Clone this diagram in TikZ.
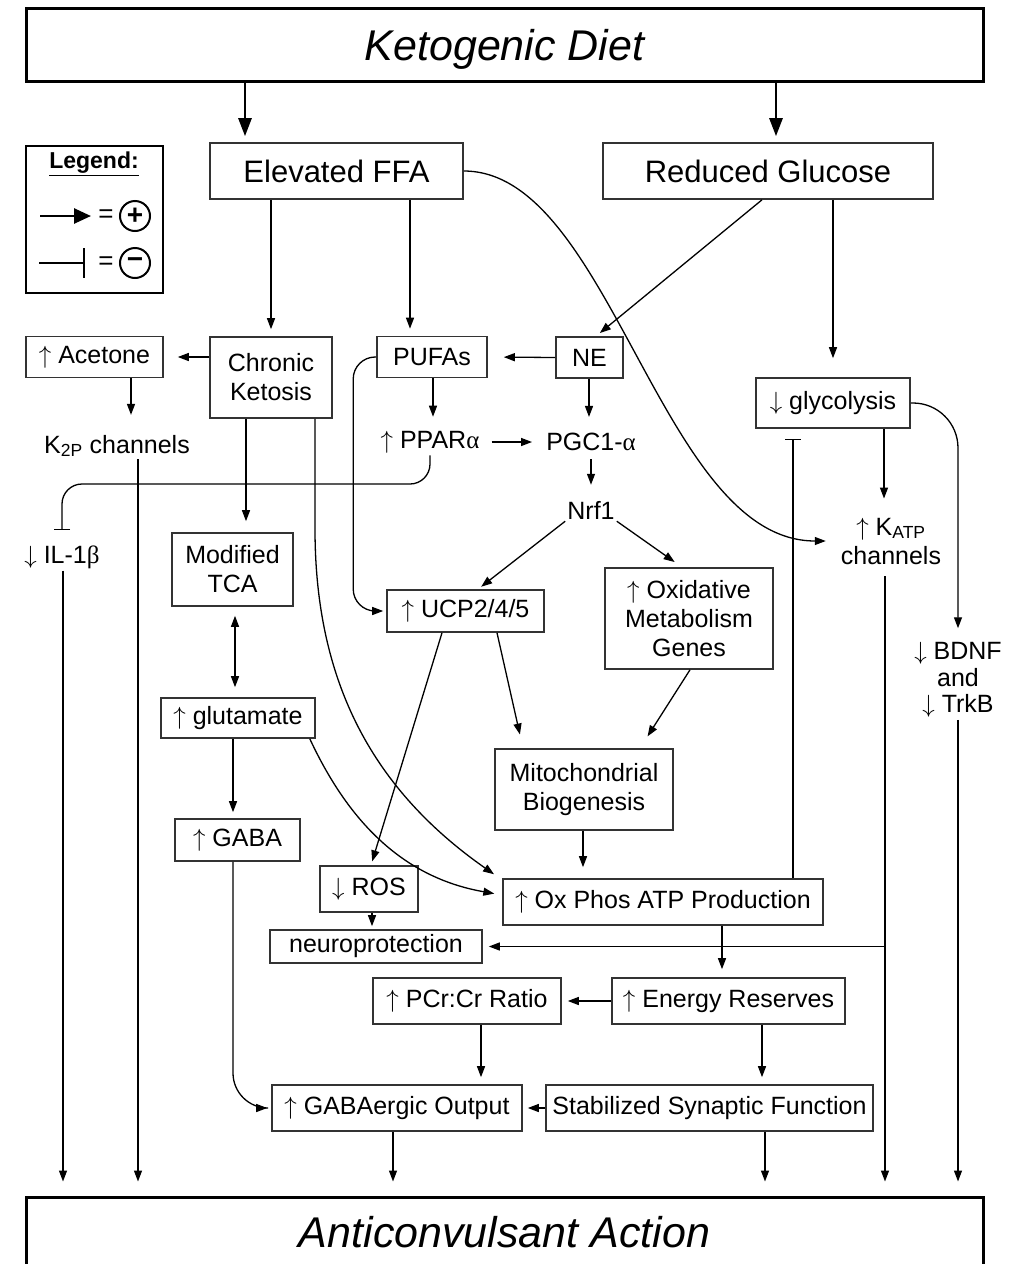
\documentclass[tikz,border=0pt]{standalone}
\usepackage{fontspec}
\setmainfont{Liberation Sans}
\newfontfamily\greekFont{Liberation Serif}
\usetikzlibrary{arrows.meta}
\newcommand{\upArr}{$\uparrow$}
\newcommand{\downArr}{$\downarrow$}

\begin{document}
\begin{tikzpicture}[x=1pt, y=1pt,
	txt/.style={font=\fontsize{25}{29}\selectfont, align=center, inner sep=2pt},
	box/.style={txt, draw=black!80, line width=1.6pt, inner sep=0pt},
	headBox/.style={box, font=\fontsize{31}{36}\selectfont},
	bigBox/.style={draw, line width=3pt, font=\fontsize{43}{50}\selectfont\itshape,
		minimum width=957pt, minimum height=73pt, text depth=0pt},
	sign/.style={circle, draw, line width=2pt, minimum size=30pt, inner sep=0pt,
		font=\fontsize{28}{28}\selectfont\bfseries},
	arr/.style={line width=1.3pt, -{Triangle[length=11pt,width=8pt]}, shorten >=6pt},
	dblArr/.style={arr, {Triangle[length=11pt,width=8pt]}-{Triangle[length=11pt,width=8pt]}, shorten <=9pt},
	bigArr/.style={line width=2.6pt, -{Triangle[length=18pt,width=13pt]}, shorten >=6pt},
	inh/.style={line width=1.3pt, -{Bar[width=16pt]}}
	]
	
	% Size of the page
	\useasboundingbox (0,0) rectangle (1018,-1264);
	\clip (0,0) rectangle (1018,-1264);
	
	% Top and bottom boxes
	\node[bigBox] (kd) at (504.5,-44.5) {Ketogenic Diet};
	\node[bigBox, minimum height=70pt] (ac) at (504.5,-1232) {Anticonvulsant Action};
	
	% Legend
	\draw[line width=2pt] (26,-146) rectangle (163,-293);
	\node[font=\fontsize{23}{26}\selectfont\bfseries] (legTitle) at (94,-164) {\underline{Legend:}};
	\draw[line width=2.6pt, -{Triangle[length=17pt,width=15pt]}] (40,-216) -- (91,-216);
	\draw[line width=2pt, -{Bar[width=30pt]}] (39,-263) -- (85,-263);
	\node[font=\fontsize{26}{26}\selectfont] (eqPlus) at (106,-216) {=};
	\node[sign] (plus) at (135,-216) {+};
	\node[font=\fontsize{26}{26}\selectfont] (eqMinus) at (106,-263) {=};
	\node[sign] (minus) at (135,-263) {−};
	
	% Boxes and labels
	\node[headBox, minimum width=253pt, minimum height=56pt] (ffa) at (336.5,-171) {Elevated FFA};
	\node[headBox, minimum width=330pt, minimum height=56pt] (glu) at (768,-171) {Reduced Glucose};
	
	\node[box, minimum width=137pt, minimum height=41pt] (acet) at (94.5,-357) {\upArr\ Acetone};
	\node[box, minimum width=122pt, minimum height=81pt] (chk) at (271,-377.5) {Chronic\\Ketosis};
	\node[box, minimum width=110pt, minimum height=41pt] (pufa) at (432,-357) {PUFAs};
	\node[box, minimum width=67pt, minimum height=41pt] (ne) at (589.5,-357.5) {NE};
	\node[box, minimum width=154pt, minimum height=50pt] (gly) at (833,-403) {\downArr\ glycolysis};
	
	\node[txt] (k2p) at (117,-446) {K\textsubscript{2P} channels};
	\node[txt] (ppar) at (430,-442) {\upArr\ PPAR{\greekFont α}};
	\node[txt] (pgc) at (591,-442) {PGC1-{\greekFont α}};
	\node[txt] (nrf) at (591,-510) {Nrf1};
	\node[txt] (katp) at (891,-541) {\upArr\ K\textsubscript{ATP}\\channels};
	\node[txt] (il) at (62,-557) {\downArr\ IL-1{\greekFont β}};
	\node[txt, font=\fontsize{25}{26.5}\selectfont] (bdnf) at (958,-680) {\downArr\ BDNF\\and\\\downArr\ TrkB};
	
	\node[box, minimum width=121pt, minimum height=73pt] (tca) at (232.5,-569.5) {Modified\\TCA};
	\node[box, minimum width=157pt, minimum height=42pt] (ucp) at (465.5,-611) {\upArr\ UCP2/4/5};
	\node[box, minimum width=168pt, minimum height=101pt] (oxg) at (689,-618.5) {\upArr\ Oxidative\\Metabolism\\Genes};
	\node[box, minimum width=154pt, minimum height=40pt] (glut) at (238,-718) {\upArr\ glutamate};
	\node[box, minimum width=178pt, minimum height=81pt] (mito) at (584,-789.5) {Mitochondrial\\Biogenesis};
	\node[box, minimum width=125pt, minimum height=42pt] (gaba) at (237.5,-840) {\upArr\ GABA};
	\node[box, minimum width=98pt, minimum height=46pt] (ros) at (369,-889) {\downArr\ ROS};
	\node[box, minimum width=320pt, minimum height=46pt] (oxp) at (663,-902) {\upArr\ Ox Phos ATP Production};
	\node[box, minimum width=212pt, minimum height=33pt] (neuro) at (376,-946.5) {neuroprotection};
	\node[box, minimum width=188pt, minimum height=46pt] (pcr) at (467,-1001) {\upArr\ PCr:Cr Ratio};
	\node[box, minimum width=233pt, minimum height=46pt] (enr) at (728.5,-1001) {\upArr\ Energy Reserves};
	\node[box, minimum width=250pt, minimum height=46pt] (gabo) at (397,-1108) {\upArr\ GABAergic Output};
	\node[box, minimum width=327pt, minimum height=46pt] (ssf) at (709.5,-1108) {Stabilized Synaptic Function};
	
	% Arrows from the diet
	\draw[bigArr] (kd.south -| 245,0) -- (ffa.north -| 245,0);
	\draw[bigArr] (kd.south -| 776,0) -- (glu.north -| 776,0);
	
	% Elevated FFA and Reduced Glucose
	\draw[arr, shorten >=7pt] (ffa.south -| 271,0) -- (chk.north -| 271,0);
	\draw[arr, shorten >=7pt] (ffa.south -| 410,0) -- (pufa.north -| 410,0);
	\draw[arr, shorten >=13pt] (ffa.east) .. controls +(147,0) and +(-178,0) .. (katp.west);
	\draw[arr, shorten >=5pt] (glu.south -| 762,0) -- (ne.north -| 596,0);
	\draw[arr, shorten >=19pt] (glu.south -| 833,0) -- (gly.north -| 833,0);
	
	% Second row
	\draw[arr, shorten >=14pt] (chk.west |- acet.east) -- (acet.east);
	\draw[arr, shorten >=16pt] (ne.west) -- (pufa.east);
	\draw[arr, shorten >=18pt] (acet.south -| 131,0) -- (k2p.north -| 131,0);
	\draw[arr, shorten >=12pt] (pufa.south -| 433,0) -- (ppar.north -| 433,0);
	\draw[arr, shorten >=14pt] (ne.south -| 589,0) -- (pgc.north -| 589,0);
	\draw[arr, shorten <=10pt, shorten >=12pt] (ppar.east) -- (pgc.west);
	\draw[arr, shorten <=6pt, shorten >=14pt] (pgc.south) -- (nrf.north);
	\draw[arr, shorten >=4pt] (nrf.south west) -- (ucp.north -| 478,0);
	\draw[arr, shorten >=9pt] (nrf.south east) -- (oxg.north -| 682,0);
	\draw[arr, rounded corners=22pt, shorten >=3pt] (pufa.west) -| ([xshift=-33pt]ucp.west) -- (ucp.west);
	\draw[inh, rounded corners=20pt, shorten >=13pt] (ppar.south) |- (il.north |- 0,-484) -- (il.north);
	
	% Glycolysis side
	\draw[arr, shorten >=17pt] (gly.south -| 884,0) -- (katp.north -| 884,0);
	\draw[arr, rounded corners=45pt, shorten >=12pt] (gly.east) -| (bdnf.north);
	\draw[inh, shorten >=10pt] (oxp.north -| 793,0) -- (gly.south -| 793,0);
	
	% Chronic ketosis branch
	\draw[arr, shorten >=11pt] (chk.south -| 246,0) -- (tca.north -| 246,0);
	\draw[dblArr, shorten >=10pt] (tca.south -| 235,0) -- (glut.north -| 235,0);
	\draw[arr] (glut.south -| 233,0) -- (gaba.north -| 233,0);
	\draw[arr, shorten >=10pt] (chk.south -| 315,0) -- ++(0,-110) to[out=-90, in=145] ([yshift=22pt]oxp.west);
	\draw[arr, shorten >=8pt] ([xshift=-6pt]glut.south east) to[out=-65, in=170] ([yshift=7pt]oxp.west);
	\draw[arr, rounded corners=35pt, shorten >=4pt] (gaba.south -| 233,0) |- (gabo.west);
	
	% Mitochondria
	\draw[arr, shorten >=4pt] (ucp.south -| 442,0) -- (ros.north -| 371,0);
	\draw[arr, shorten >=14pt] (ucp.south -| 497,0) -- (mito.north -| 523,0);
	\draw[arr, shorten >=14pt] (oxg.south -| 690,0) -- (mito.north -| 640,0);
	\draw[arr, shorten >=11pt] (mito.south -| 583,0) -- (oxp.north -| 583,0);
	\draw[arr, shorten >=3pt] (ros.south -| 372,0) -- (neuro.north -| 372,0);
	\draw[arr, shorten >=8pt] (oxp.south -| 722,0) -- (enr.north -| 722,0);
	\draw[arr] (enr.west) -- (pcr.east);
	\draw[arr, shorten >=7pt] (pcr.south -| 481,0) -- (gabo.north -| 481,0);
	\draw[arr, shorten >=7pt] (enr.south -| 762,0) -- (ssf.north -| 762,0);
	\draw[arr, shorten >=5pt] (ssf.west) -- (gabo.east);
	
	% Down to the anticonvulsant action
	\draw[arr, shorten >=14pt] (il.south -| 63,0) -- (ac.north -| 63,0);
	\draw[arr, shorten >=14pt] (k2p.south -| 138,0) -- (ac.north -| 138,0);
	\draw[arr, shorten >=14pt] (gabo.south -| 393,0) -- (ac.north -| 393,0);
	\draw[arr, shorten >=14pt] (ssf.south -| 765,0) -- (ac.north -| 765,0);
	\draw[arr, shorten <=10pt, shorten >=14pt] (katp.south -| 885,0) -- (ac.north -| 885,0);
	\draw[arr, shorten >=14pt] (bdnf.south -| 958,0) -- (ac.north -| 958,0);
	\draw[arr] (neuro.east -| 885,0) -- (neuro.east);
	
\end{tikzpicture}
\end{document}
